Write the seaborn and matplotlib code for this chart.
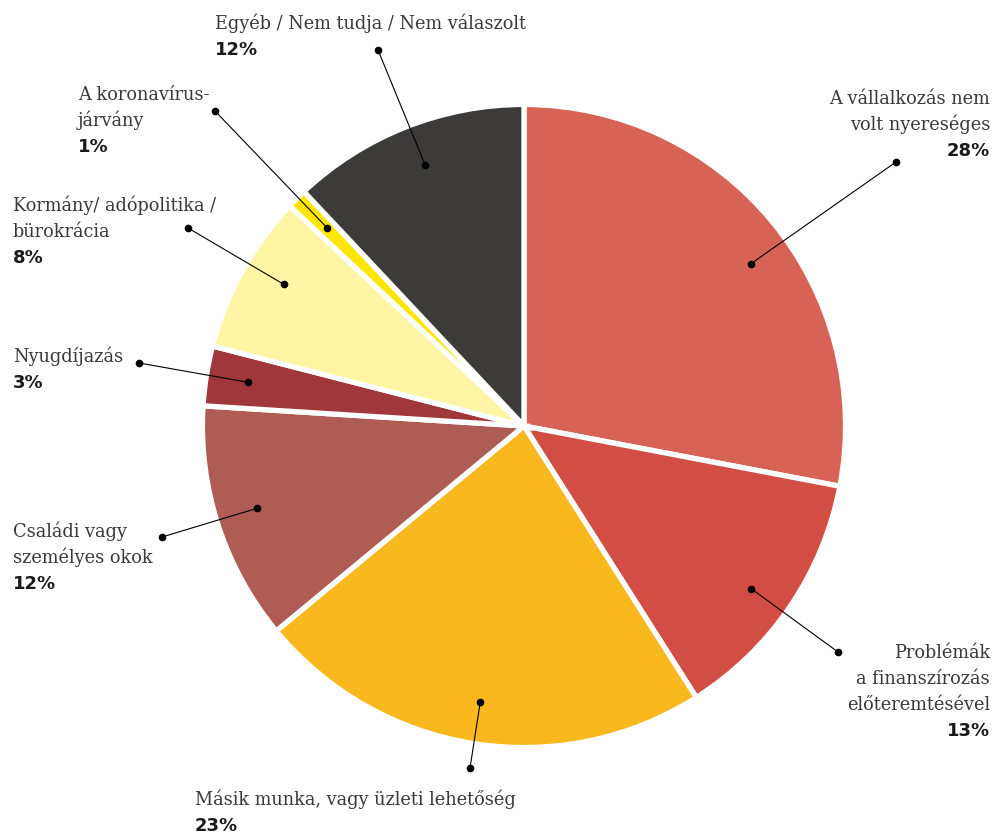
import numpy as np
import matplotlib
matplotlib.use("Agg")
import matplotlib.pyplot as plt
import seaborn as sns

# data, in pie order (clockwise from 12 o'clock)
labels = [
    "A vállalkozás nem\nvolt nyereséges",
    "Problémák\na finanszírozás\nelőteremtésével",
    "Másik munka, vagy üzleti lehetőség",
    "Családi vagy\nszemélyes okok",
    "Nyugdíjazás",
    "Kormány/ adópolitika /\nbürokrácia",
    "A koronavírus-\njárvány",
    "Egyéb / Nem tudja / Nem válaszolt",
]
values = [28, 13, 23, 12, 3, 8, 1, 12]
colors = ["#D76357", "#D24E45", "#F9B91E", "#AF5C55",
          "#A0373A", "#FFF5A5", "#FFE600", "#3C3B39"]

# label layout in figure pixels (from top-left): leader end, first baseline, alignment
leader_end = [(896, 162), (838, 652), (470, 768), (162, 537),
              (139, 363), (188, 228), (215, 111), (378, 50)]
text_pos = [(990, 104), (990, 658), (195, 805), (13, 537),
            (13, 362), (13, 211), (78, 100), (215, 29)]
text_align = ["right", "right", "left", "left", "left", "left", "left", "left"]
dot_frac = [0.54, 0.53, 0.5, 0.52, 0.5, 0.56, 0.55, 0.52]  # where the dot sits across the wedge

W, H = 993, 832
cx, cy, R = 524, 426, 319  # pie centre / radius in pixels

sns.set_style("white")
fig = plt.figure(figsize=(W / 100, H / 100), dpi=100)
ax = fig.add_axes([0, 0, 1, 1])

pal = sns.color_palette(colors)
wedges, _ = ax.pie(values, colors=pal, startangle=90, counterclock=False,
                   radius=1.008, center=(0, 0),
                   wedgeprops=dict(edgecolor="white", linewidth=3.8))
ax.set_xlim(-cx / R, (W - cx) / R)
ax.set_ylim((cy - H) / R, cy / R)
ax.set_aspect("equal")
ax.axis("off")


def px(p):
    return ((p[0] - cx) / R, (cy - p[1]) / R)


line_h = 26 / R

for i, w in enumerate(wedges):
    # wedges are clockwise, so theta2 is the start side
    ang = np.deg2rad(w.theta2 - dot_frac[i] * (w.theta2 - w.theta1))
    inner = (0.875 * np.cos(ang), 0.875 * np.sin(ang))
    outer = px(leader_end[i])
    ax.plot([inner[0], outer[0]], [inner[1], outer[1]], color="black", lw=0.8)
    ax.plot([inner[0], outer[0]], [inner[1], outer[1]], "o", color="black",
            ms=4.5, zorder=5)

    tx, ty = px(text_pos[i])
    lines = labels[i].split("\n")
    for k, line in enumerate(lines):
        ax.text(tx, ty - k * line_h, line, ha=text_align[i], va="baseline",
                family="DejaVu Serif", fontsize=12.8, color="#3a3a3a")
    ax.text(tx, ty - len(lines) * line_h, f"{values[i]}%", ha=text_align[i],
            va="baseline", family="DejaVu Sans", fontweight="bold",
            fontsize=13, color="#1a1a1a")

fig.savefig("out.png", dpi=100)
